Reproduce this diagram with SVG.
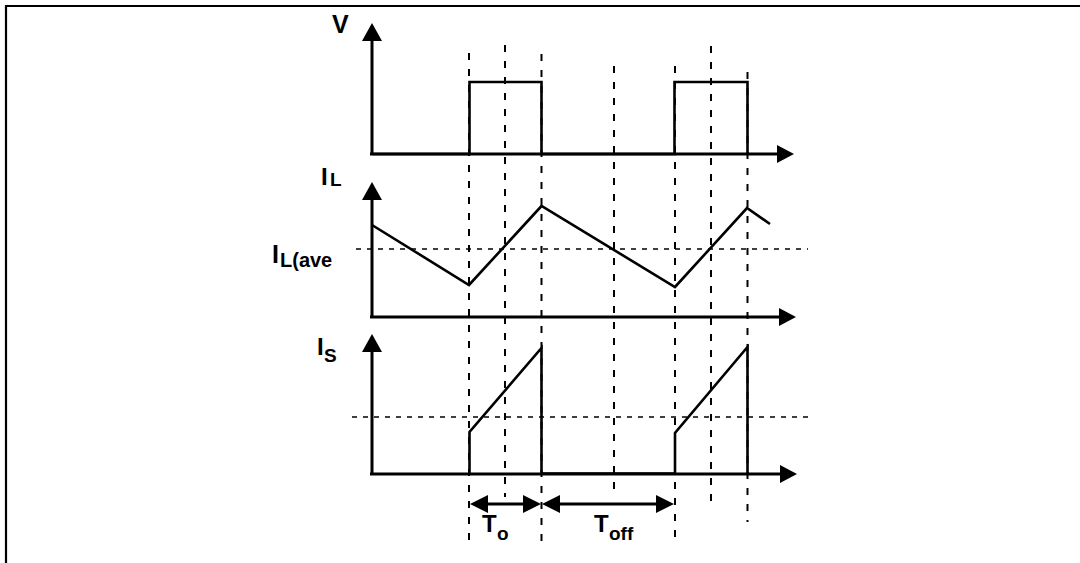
<svg xmlns="http://www.w3.org/2000/svg" width="1080" height="563" viewBox="0 0 1080 563">
<style>
.frame{fill:none;stroke:#000;stroke-width:2.2}
.axis{fill:none;stroke:#000;stroke-width:3}
.wave{fill:none;stroke:#000;stroke-width:2.6;stroke-linejoin:miter}
.vdash{fill:none;stroke:#000;stroke-width:2;stroke-dasharray:7 9}
.hdash{fill:none;stroke:#000;stroke-width:1.6;stroke-dasharray:5 6}
.head{fill:#000;stroke:none}
.lbl{font-family:"Liberation Sans",Arial,sans-serif;font-weight:bold;fill:#000}
.big{font-size:24px}
.sub{font-size:19px}
</style>
<rect width="1080" height="563" fill="#fff"/>
<g id="frame">
<path class="frame" d="M6,563 V6 H1080"/>
</g>
<g id="guides">
<line class="vdash" x1="469" y1="53" x2="469" y2="542"/>
<line class="vdash" x1="505" y1="45" x2="505" y2="497"/>
<line class="vdash" x1="541.5" y1="54" x2="541.5" y2="542"/>
<line class="vdash" x1="614" y1="66" x2="614" y2="497"/>
<line class="vdash" x1="675" y1="66" x2="675" y2="542"/>
<line class="vdash" x1="711" y1="46" x2="711" y2="502"/>
<line class="vdash" x1="747.5" y1="72" x2="747.5" y2="522"/>
<line class="hdash" x1="356" y1="249" x2="808" y2="249"/>
<line class="hdash" x1="352" y1="417" x2="808" y2="417"/>
</g>
<g id="plot-v">
<path class="axis" d="M372,40 V154 M370,154 H778"/>
<path class="head" d="M372,23 L362,41 L382,41 Z"/>
<path class="head" d="M794,154 L777,145 L777,163 Z"/>
<path class="wave" d="M372,154 H469.5 V82 H541.5 V154 H674.5 V82 H747.5 V154"/>
<text class="lbl" x="332" y="33" font-size="25">V</text>
</g>
<g id="plot-il">
<path class="axis" d="M372,199 V317 M370,317 H780"/>
<path class="head" d="M372,182 L362,200 L382,200 Z"/>
<path class="head" d="M796,317 L779,308 L779,326 Z"/>
<path class="wave" d="M372,225 L469,285 L541.5,206 L675,287 L747,208 L770,224"/>
<text class="lbl big" x="321" y="185">I<tspan class="sub" font-size="18" x="330" y="186">L</tspan></text>
<text class="lbl" x="272" y="263" font-size="25">I<tspan font-size="20" x="280" y="267">L(ave</tspan></text>
</g>
<g id="plot-is">
<path class="axis" d="M372,351 V474 M370,474 H780"/>
<path class="head" d="M372,334 L362,352 L382,352 Z"/>
<path class="head" d="M797,474 L780,465 L780,483 Z"/>
<path class="wave" d="M469.5,474 V432 L541.5,348 V474 M541.5,473.5 H675 M675,474 V433 L747.5,347 V474"/>
<text class="lbl big" x="317" y="355">I<tspan class="sub" x="324" y="362">S</tspan></text>
</g>
<g id="connectors">
<line class="axis" x1="485" y1="504" x2="526" y2="504"/>
<path class="head" d="M470,504 L488,495 L488,513 Z"/>
<path class="head" d="M541,504 L523,495 L523,513 Z"/>
<line class="axis" x1="557" y1="504" x2="659" y2="504"/>
<path class="head" d="M542,504 L560,495 L560,513 Z"/>
<path class="head" d="M674,504 L656,495 L656,513 Z"/>
</g>
<g id="label-ton">
<text class="lbl big" x="482" y="532">T<tspan class="sub" font-size="20" x="497" y="540">o</tspan></text>
</g>
<g id="label-toff">
<text class="lbl big" x="594" y="532">T<tspan class="sub" font-size="20" x="609" y="540">off</tspan></text>
</g>
</svg>
